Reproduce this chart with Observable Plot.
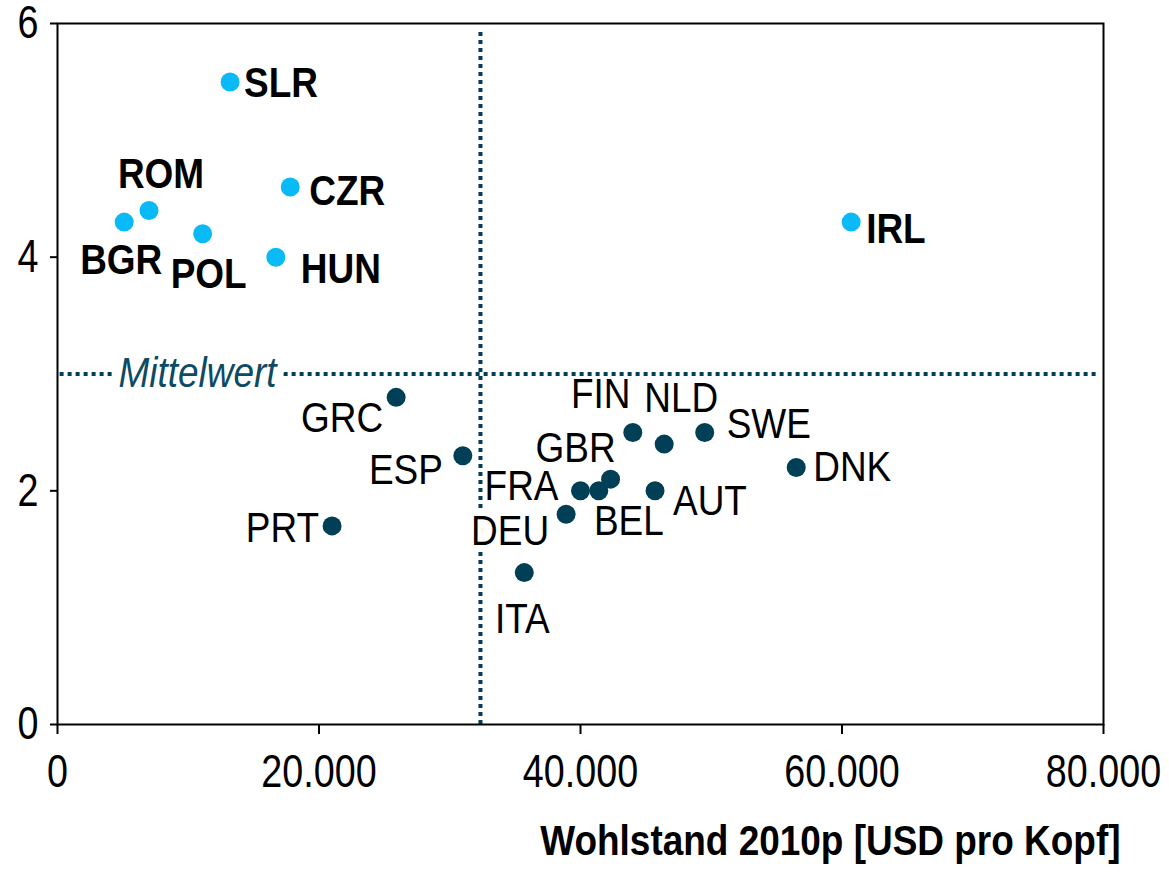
<!DOCTYPE html>
<html><head><meta charset="utf-8">
<script src="https://cdn.jsdelivr.net/npm/d3@7"></script>
<script src="https://cdn.jsdelivr.net/npm/@observablehq/plot@0.6"></script>
<style>
html,body{margin:0;padding:0;background:#fff;}
</style>
</head><body>
<div id="chart"></div>
<script>
// Data
const countries = ["SLR","ROM","BGR","POL","CZR","HUN","IRL","GRC","ESP","PRT","ITA","DEU","FRA","BEL","GBR","FIN","NLD","SWE","AUT","DNK"];
const wealth = [13200,7000,5100,11100,17800,16700,60700,25900,31000,21000,35700,38900,40000,41400,42300,44000,46400,49500,45700,56500];
const growth = [5.5,4.4,4.3,4.2,4.6,4.0,4.3,2.8,2.3,1.7,1.3,1.8,2.0,2.0,2.1,2.5,2.4,2.5,2.0,2.2];
const group  = ["hi","hi","hi","hi","hi","hi","hi","lo","lo","lo","lo","lo","lo","lo","lo","lo","lo","lo","lo","lo"];
const meanWealth = 32350;
const meanGrowth = 3.0;
const xTicks = [0,20000,40000,60000,80000];
const yTicks = [0,2,4,6];
const xLabel = "Wohlstand 2010p [USD pro Kopf]";
const meanLabel = "Mittelwert";

const data = countries.map((c,i)=>({country:c, x:wealth[i], y:growth[i], group:group[i]}));

// Label placement (pixel offsets, anchor)
const labelPos = {
  SLR:[14,2,"start"], ROM:[12,-36,"middle"], BGR:[-3,38,"middle"], POL:[6,41,"middle"],
  CZR:[19,4,"start"], HUN:[25,12,"start"], IRL:[15,7,"start"],
  GRC:[-13,21,"end"], ESP:[-20,15,"end"], PRT:[-13,3,"end"], ITA:[-2,47,"middle"],
  DEU:[-56,17,"middle"], FRA:[-22,-4,"end"], BEL:[30,31,"middle"], GBR:[-35,-31,"middle"],
  FIN:[-32,-38,"middle"], NLD:[17,-46,"middle"], SWE:[22,-8,"start"], AUT:[18,11,"start"], DNK:[17,0,"start"]
};

const dark = "#003f55";
const light = "#0abaf7";
const font = "'Liberation Sans',Arial,sans-serif";

const labelMarks = data.map(d => {
  const [dx,dy,anchor] = labelPos[d.country];
  return Plot.text([d], {
    x:"x", y:"y", text:"country", dx, dy, textAnchor:anchor,
    fontSize: 42, fontWeight: d.group==="hi" ? "bold" : "normal", fill:"#000",
    ...(d.country==="DEU" ? {stroke:"white", strokeWidth:12, paintOrder:"stroke"} : {})
  });
});

const chart = Plot.plot({
  width: 1169, height: 872,
  marginLeft: 57, marginRight: 66, marginTop: 23, marginBottom: 148,
  style: {fontFamily: font, background:"#fff", overflow:"visible"},
  x: {domain:[0,80000]},
  y: {domain:[0,6]},
  marks: [
    Plot.ruleY([meanGrowth], {stroke:dark, strokeWidth:4, strokeDasharray:"4,4", x1:200, x2:79700}),
    Plot.ruleX([meanWealth], {stroke:dark, strokeWidth:4, strokeDasharray:"4,4", y1:0, y2:5.95}),
    Plot.text([meanLabel], {frameAnchor:"left", y:()=>meanGrowth, dx:140, textAnchor:"middle",
      fill:"#0d4a63", fontSize:42, fontStyle:"italic", stroke:"white", strokeWidth:18, paintOrder:"stroke"}),
    Plot.frame({stroke:"#000", strokeWidth:2}),
    Plot.axisX({ticks:xTicks, tickSize:10, tickPadding:20, fontSize:46, stroke:"#000", strokeWidth:2,
      tickFormat: d => d3.format(",")(d).replace(/,/g,"."), label:null}),
    Plot.axisY({ticks:yTicks, tickSize:7, tickPadding:12, fontSize:46, stroke:"#000", strokeWidth:2,
      tickFormat: d => String(d), label:null}),
    Plot.dot(data, {x:"x", y:"y", r:9.5, fill: d => d.group==="hi" ? light : dark, stroke:null}),
    ...labelMarks,
    Plot.text([xLabel], {frameAnchor:"bottom-right", dx:17, dy:130, textAnchor:"end", fontSize:42, fontWeight:"bold", fill:"#000"})
  ]
});
// condense all text horizontally (narrow typeface look)
chart.querySelectorAll("text").forEach(t => {
  const g = t.closest("g[aria-label]");
  const isTick = g && /tick label/.test(g.getAttribute("aria-label"));
  const s = isTick ? 0.82 : 0.88;
  let tx = 0;
  const xa = t.getAttribute("x");
  if (xa != null && !/em$/.test(xa)) { tx = +xa || 0; t.removeAttribute("x"); }
  const tr = t.getAttribute("transform") || "";
  t.setAttribute("transform", `${tr} translate(${tx},0) scale(${s},1)`);
});
document.getElementById("chart").appendChild(chart);
</script>
</body></html>
